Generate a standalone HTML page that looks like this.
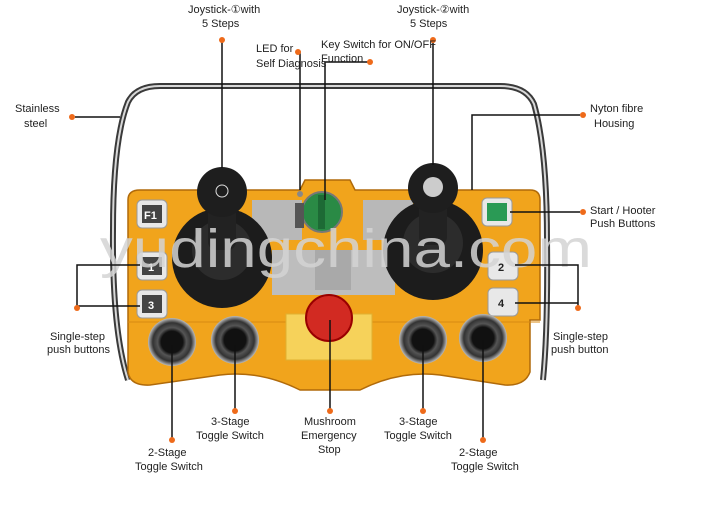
<!DOCTYPE html>
<html><head><style>
body{margin:0;background:#fff;width:720px;height:522px;overflow:hidden}
svg{display:block}
text{font-family:"Liberation Sans",sans-serif;font-size:11px;fill:#222}
</style></head><body>
<svg width="720" height="522" viewBox="0 0 720 522">
<defs>
<radialGradient id="ring"><stop offset=".45" stop-color="#111"/><stop offset=".6" stop-color="#555"/><stop offset=".8" stop-color="#333"/><stop offset="1" stop-color="#bbb"/></radialGradient>
</defs>
<path d="M128 380 Q112 330 113 230 Q113 140 128 102 Q136 86 160 86 L500 86 Q526 86 534 104 Q547 150 547 240 Q548 330 543 380" fill="none" stroke="#3a3a3a" stroke-width="6"/>
<path d="M128 380 Q112 330 113 230 Q113 140 128 102 Q136 86 160 86 L500 86 Q526 86 534 104 Q547 150 547 240 Q548 330 543 380" fill="none" stroke="#d8d8d8" stroke-width="2"/>
<path d="M128 200 Q128 190 140 190 L300 190 L305 180 L350 180 L355 190 L530 190 Q540 190 540 200 L540 320 L530 320 L530 372 Q525 386 505 385 L440 375 Q400 370 360 390 L300 390 Q260 370 220 375 L150 385 Q130 386 128 372 Z" fill="#f1a41c" stroke="#b06a0a" stroke-width="1.5"/>
<path d="M128 322 L540 322" stroke="#d88a12" stroke-width="1"/>
<rect x="252" y="200" width="50" height="40" fill="#b8b8b8"/>
<rect x="363" y="200" width="50" height="40" fill="#b8b8b8"/>
<path d="M272 250 L395 250 L395 295 L272 295 Z" fill="#bdbdbd"/>
<rect x="315" y="250" width="36" height="40" fill="#a9a9a9"/>
<circle cx="222" cy="258" r="50" fill="#1c1c1c"/>
<circle cx="222" cy="250" r="30" fill="#2c2c2c"/>
<rect x="208" y="200" width="28" height="50" rx="8" fill="#222"/>
<circle cx="222" cy="192" r="25" fill="#1e1e1e"/>
<circle cx="222" cy="191" r="6" fill="none" stroke="#ddd"/>
<circle cx="433" cy="250" r="50" fill="#1c1c1c"/>
<circle cx="433" cy="243" r="30" fill="#2c2c2c"/>
<rect x="419" y="195" width="28" height="50" rx="8" fill="#222"/>
<circle cx="433" cy="188" r="25" fill="#1e1e1e"/>
<circle cx="433" cy="187" r="10" fill="#ccc"/>
<circle cx="322" cy="212" r="20" fill="#2a8a45" stroke="#777" stroke-width="2"/>
<rect x="318" y="195" width="7" height="34" fill="#1d6a35"/>
<circle cx="300" cy="194" r="3" fill="#888"/>
<rect x="295" y="203" width="9" height="25" fill="#555"/>
<g fill="#e8e8e8" stroke="#999">
<rect x="137" y="200" width="30" height="28" rx="5"/>
<rect x="137" y="252" width="30" height="28" rx="5"/>
<rect x="137" y="290" width="30" height="28" rx="5"/>
<rect x="482" y="198" width="30" height="28" rx="5"/>
<rect x="488" y="252" width="30" height="28" rx="5"/>
<rect x="488" y="288" width="30" height="28" rx="5"/>
</g>
<g fill="#444"><rect x="142" y="205" width="20" height="18"/><rect x="142" y="257" width="20" height="18"/><rect x="142" y="295" width="20" height="18"/></g>
<rect x="487" y="203" width="20" height="18" fill="#2a9a55"/>
<text x="144" y="219" style="fill:#fff;font-weight:bold">F1</text>
<text x="148" y="271" style="fill:#fff;font-weight:bold">1</text>
<text x="148" y="309" style="fill:#fff;font-weight:bold">3</text>
<text x="498" y="271" style="font-weight:bold">2</text>
<text x="498" y="307" style="font-weight:bold">4</text>
<rect x="286" y="314" width="86" height="46" fill="#f6d25a" stroke="#e0b030"/>
<circle cx="329" cy="318" r="23" fill="#d22a22" stroke="#900" stroke-width="2"/>
<circle cx="172" cy="342" r="24" fill="url(#ring)"/>
<circle cx="235" cy="340" r="24" fill="url(#ring)"/>
<circle cx="423" cy="340" r="24" fill="url(#ring)"/>
<circle cx="483" cy="338" r="24" fill="url(#ring)"/>
<text x="100" y="267" textLength="492" lengthAdjust="spacingAndGlyphs" style="font-size:54px;fill:#d4d4d4;fill-opacity:.85">yudingchina.com</text>
<g stroke="#111" stroke-width="1.5" fill="none">
<path d="M222 40 V168"/><path d="M433 40 V165"/>
<path d="M298 52 H300 V190"/><path d="M368 62 H325 V200"/>
<path d="M75 117 H120"/><path d="M580 115 H472 V190"/>
<path d="M580 212 H510"/>
<path d="M77 307 V265 H140 M77 306 H140"/>
<path d="M578 307 V265 H515 M578 303 H515"/>
<path d="M172 345 V438"/><path d="M235 345 V410"/><path d="M330 320 V410"/><path d="M423 345 V410"/><path d="M483 340 V438"/>
</g>
<g fill="#ee6a1a">
<circle cx="222" cy="40" r="3"/><circle cx="433" cy="40" r="3"/>
<circle cx="298" cy="52" r="3"/><circle cx="370" cy="62" r="3"/>
<circle cx="72" cy="117" r="3"/><circle cx="583" cy="115" r="3"/><circle cx="583" cy="212" r="3"/>
<circle cx="77" cy="308" r="3"/><circle cx="578" cy="308" r="3"/>
<circle cx="172" cy="440" r="3"/><circle cx="235" cy="411" r="3"/><circle cx="330" cy="411" r="3"/><circle cx="423" cy="411" r="3"/><circle cx="483" cy="440" r="3"/>
</g>
<g>
<text x="188" y="13">Joystick-①with</text><text x="202" y="27">5 Steps</text>
<text x="397" y="13">Joystick-②with</text><text x="410" y="27">5 Steps</text>
<text x="256" y="52">LED for</text><text x="256" y="67">Self Diagnosis</text>
<text x="321" y="48">Key Switch for ON/OFF</text><text x="321" y="62">Function</text>
<text x="15" y="112">Stainless</text><text x="24" y="127">steel</text>
<text x="590" y="112">Nyton fibre</text><text x="594" y="127">Housing</text>
<text x="590" y="214">Start / Hooter</text><text x="590" y="227">Push Buttons</text>
<text x="50" y="340">Single-step</text><text x="47" y="353">push buttons</text>
<text x="553" y="340">Single-step</text><text x="551" y="353">push button</text>
<text x="211" y="425">3-Stage</text><text x="196" y="439">Toggle Switch</text>
<text x="304" y="425">Mushroom</text><text x="301" y="439">Emergency</text><text x="318" y="453">Stop</text>
<text x="399" y="425">3-Stage</text><text x="384" y="439">Toggle Switch</text>
<text x="148" y="456">2-Stage</text><text x="135" y="470">Toggle Switch</text>
<text x="459" y="456">2-Stage</text><text x="451" y="470">Toggle Switch</text>
</g>
</svg>
</body></html>
